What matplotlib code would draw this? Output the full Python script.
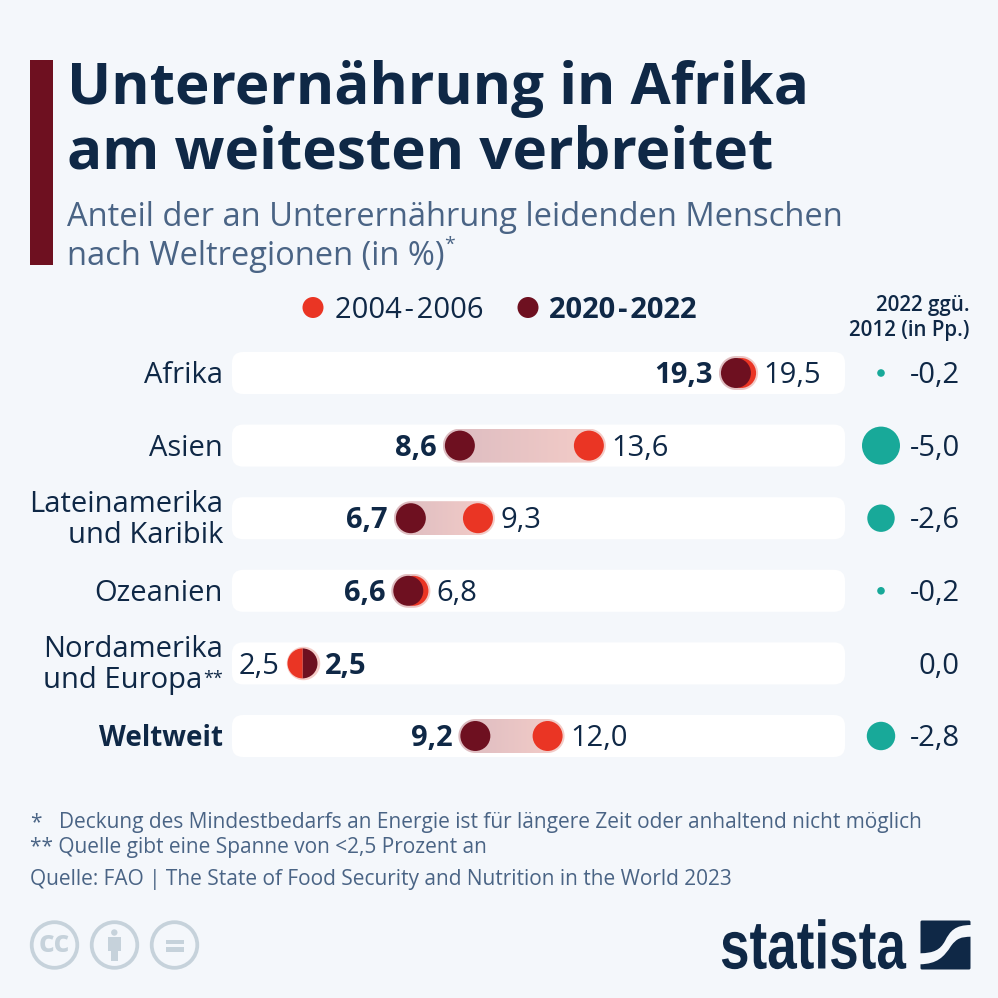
import numpy as np
import matplotlib
matplotlib.use("Agg")
import matplotlib.pyplot as plt
from matplotlib.markers import MarkerStyle
from matplotlib.patches import Circle, FancyBboxPatch, PathPatch, Rectangle
from matplotlib.patheffects import AbstractPathEffect
from matplotlib.path import Path
from matplotlib.colors import LinearSegmentedColormap
from matplotlib.transforms import Affine2D

regions = ["Afrika", "Asien", "Lateinamerika\nund Karibik", "Ozeanien", "Nordamerika\nund Europa", "Weltweit"]
values_2004 = [19.5, 13.6, 9.3, 6.8, 2.5, 12.0]
values_2020 = [19.3, 8.6, 6.7, 6.6, 2.5, 9.2]
change_pp = [-0.2, -5.0, -2.6, -0.2, 0.0, -2.8]

BG = "#f4f7fb"
NAVY = "#0f2846"
SLATE = "#4a6485"
RED = "#ea3524"
DARK = "#6e1020"
TEAL = "#18a999"
GREY = "#c6d2db"
FS = 21

plt.rcParams["font.family"] = ["Open Sans", "DejaVu Sans"]


def de(v):
    return f"{v:.1f}".replace(".", ",")


# schmale Schrift fürs Logo: Text bleibt Text, wird nur horizontal gestaucht
class Squeeze(AbstractPathEffect):
    def __init__(self, x0, sx):
        super().__init__()
        self.x0 = x0
        self.sx = sx

    def draw_path(self, renderer, gc, tpath, affine, rgbFace=None):
        squeeze = Affine2D().translate(-self.x0, 0).scale(self.sx, 1).translate(self.x0, 0)
        renderer.draw_path(gc, tpath, affine + squeeze, rgbFace)


fig = plt.figure(figsize=(9.98, 9.98), dpi=100, facecolor=BG)

# Hintergrund-Achse in Pixeln
bg = fig.add_axes([0, 0, 1, 1], zorder=0)
bg.set_xlim(0, 998)
bg.set_ylim(998, 0)
bg.axis("off")

# Datenachse: 0 % liegt bei 238 px, 1 % = 25,8 px; Zeilenabstand 72,6 px
L, R, T, B = 232, 845, 340, 770
ax = fig.add_axes([L / 998, 1 - B / 998, (R - L) / 998, (B - T) / 998], zorder=1)
ax.set_xlim((L - 238) / 25.8, (R - 238) / 25.8)
ax.set_ylim((B - 373) / 72.6, (T - 373) / 72.6)
ax.axis("off")

# Achse für die Veränderung (Blasen)
ax2 = fig.add_axes([850 / 998, 1 - B / 998, 148 / 998, (B - T) / 998], zorder=1)
ax2.set_xlim(0, 148)
ax2.set_ylim(ax.get_ylim())
ax2.axis("off")

# Titelblock
bg.add_patch(Rectangle((30, 60), 23, 205, fc=DARK, ec="none"))
bg.text(67, 104, "Unterernährung in Afrika", fontsize=42, fontweight="bold", color=NAVY, va="baseline")
bg.text(67, 168, "am weitesten verbreitet", fontsize=42, fontweight="bold", color=NAVY, va="baseline")
bg.text(67, 226, "Anteil der an Unterernährung leidenden Menschen", fontsize=23.5, color=SLATE, va="baseline")
bg.text(67, 265, "nach Weltregionen (in %)", fontsize=23.5, color=SLATE, va="baseline")
bg.text(444, 250, "*", fontsize=14, color=SLATE, va="baseline")

# Legende
legend_items = [(313, RED, 335, "2004\u200a-\u200a2006", "normal"), (528, DARK, 549, "2020\u200a-\u200a2022", "bold")]
for cx, col, tx, label, weight in legend_items:
    bg.add_patch(Circle((cx, 307.5), 10.5, fc=col, ec="none"))
    bg.text(tx, 318, label, fontsize=FS, color=NAVY, fontweight=weight, va="baseline")

bg.text(970, 311, "2022 ggü.", fontsize=14.8, fontweight=600, color=NAVY, ha="right", va="baseline")
bg.text(970, 336, "2012 (in Pp.)", fontsize=14.8, fontweight=600, color=NAVY, ha="right", va="baseline")

# Zeilen
for i, name in enumerate(regions):
    yc = 373 + 72.6 * i
    bg.add_patch(FancyBboxPatch((232 + 11, yc - 21 + 11), 613 - 22, 42 - 22,
                                boxstyle="round,pad=11", fc="white", ec="none"))
    lines = name.split("\n")
    if name == "Weltweit":
        bg.text(223, yc + 10, name, fontsize=20, color=NAVY, fontweight="bold", ha="right", va="baseline")
    elif len(lines) == 1:
        bg.text(223, yc + 10, name, fontsize=FS, color=NAVY, ha="right", va="baseline")
    elif lines[1] == "und Europa":
        bg.text(223, yc - 6, lines[0], fontsize=FS, color=NAVY, ha="right", va="baseline")
        bg.text(202.5, yc + 25, lines[1], fontsize=FS, color=NAVY, ha="right", va="baseline")
        bg.text(223, yc + 20, "**", fontsize=13, color=NAVY, ha="right", va="baseline")
    else:
        bg.text(223, yc - 6, lines[0], fontsize=FS, color=NAVY, ha="right", va="baseline")
        bg.text(223, yc + 25, lines[1], fontsize=FS, color=NAVY, ha="right", va="baseline")

# Verlaufsband und Punkte
cmap = LinearSegmentedColormap.from_list("band", ["#dcbcc1", "#f5cdc8"])
gradient = np.linspace(0, 1, 256).reshape(1, -1)
r_x = 17 / 25.8
r_y = 17 / 72.6
dot = 466
for i, (v1, v2) in enumerate(zip(values_2004, values_2020)):
    lo, hi = min(v1, v2) - r_x, max(v1, v2) + r_x
    if v1 != v2:
        t = np.linspace(np.pi / 2, 3 * np.pi / 2, 30)
        verts = list(zip(lo + r_x + r_x * np.cos(t), i + r_y * np.sin(t)))
        t = np.linspace(3 * np.pi / 2, 5 * np.pi / 2, 30)
        verts += list(zip(hi - r_x + r_x * np.cos(t), i + r_y * np.sin(t)))
        clip = PathPatch(Path(verts + [verts[0]]), fc="none", ec="none", transform=ax.transData)
        ax.add_patch(clip)
        im = ax.imshow(gradient, extent=(lo, hi, i + r_y, i - r_y), cmap=cmap, aspect="auto", zorder=2)
        im.set_clip_path(clip)
        ax.scatter([v1], [i], s=dot, color=RED, edgecolors="none", zorder=3)
        ax.scatter([v2], [i], s=dot, color=DARK, edgecolors="none", zorder=4)
    else:
        ax.scatter([v1], [i], s=dot, color="#f5cdc8", edgecolors="#f5cdc8", linewidths=2.5, zorder=3)
        ax.scatter([v2], [i], s=dot, color=DARK, marker=MarkerStyle("o", fillstyle="right"),
                   edgecolors="none", zorder=4)
        ax.scatter([v1], [i], s=dot, color=RED, marker=MarkerStyle("o", fillstyle="left"),
                   edgecolors="none", zorder=4)

    if v1 > v2:
        ax.annotate(de(v2), (v2, i), xytext=(-16.5, -7.3), textcoords="offset points", ha="right", va="baseline",
                    fontsize=FS, fontweight="bold", color=NAVY, zorder=5)
        ax.annotate(de(v1), (v1, i), xytext=(16.3, -7.3), textcoords="offset points", ha="left", va="baseline",
                    fontsize=FS, color=NAVY, zorder=5)
    else:
        ax.annotate(de(v1), (v1, i), xytext=(-16.5, -7.3), textcoords="offset points", ha="right", va="baseline",
                    fontsize=FS, color=NAVY, zorder=5)
        ax.annotate(de(v2), (v2, i), xytext=(16.5, -7.3), textcoords="offset points", ha="left", va="baseline",
                    fontsize=FS, fontweight="bold", color=NAVY, zorder=5)

# Blasen: Fläche proportional zur Veränderung, -5,0 = 38 px Durchmesser
for i, c in enumerate(change_pp):
    if c != 0:
        d_pt = 38 * np.sqrt(abs(c) / 5.0) * 0.72
        ax2.scatter([881 - 850], [i], s=d_pt ** 2, color=TEAL, edgecolors="none")
    ax2.annotate(de(c), (110, i), xytext=(0, -7.3), textcoords="offset points", ha="right", va="baseline",
                 fontsize=FS, color=NAVY)

# Fußnoten
bg.text(30, 828, "*", fontsize=15, color=SLATE, va="baseline")
bg.text(59, 828, "Deckung des Mindestbedarfs an Energie ist für längere Zeit oder anhaltend nicht möglich",
        fontsize=15, color=SLATE, va="baseline")
bg.text(30, 853, "** Quelle gibt eine Spanne von <2,5 Prozent an", fontsize=15, color=SLATE, va="baseline")
bg.text(30, 885, "Quelle: FAO | The State of Food Security and Nutrition in the World 2023", fontsize=15,
        color=SLATE, va="baseline")

# CC-Symbole
for cx in (54.5, 114.5, 174.5):
    bg.add_patch(Circle((cx, 945), 22.8, fc="none", ec=GREY, lw=2.7))
bg.text(54.5, 944, "cc", fontsize=22, fontweight="bold", color=GREY, ha="center", va="center")
bg.add_patch(Circle((114.3, 932.5), 3.2, fc=GREY, ec="none"))
bg.add_patch(Rectangle((107.7, 937), 13.3, 14, fc=GREY, ec="none"))
bg.add_patch(Rectangle((110.7, 951), 7.6, 9.5, fc=GREY, ec="none"))
bg.add_patch(Rectangle((166, 940), 18, 4.3, fc=GREY, ec="none"))
bg.add_patch(Rectangle((166, 947.4), 18, 4.3, fc=GREY, ec="none"))

# Statista-Logo
logo = bg.text(720, 968.5, "statista", fontsize=49, fontweight="bold", family=["Liberation Sans", "DejaVu Sans"],
               color=NAVY, ha="left", va="baseline")
logo_x0 = bg.transData.transform((720, 968.5))[0]
logo.set_path_effects([Squeeze(logo_x0, 0.78)])
bg.add_patch(FancyBboxPatch((922, 922), 47, 46, boxstyle="round,pad=1.5", fc=NAVY, ec="none"))
s_verts = [(971, 925), (955, 925), (950, 931), (945, 941), (940, 950), (934, 953), (920, 953.3),
           (920, 964.3), (937, 964), (944, 957), (951, 946), (957, 938), (961, 937), (971, 936.7), (971, 925)]
s_codes = [Path.MOVETO, Path.CURVE4, Path.CURVE4, Path.CURVE4, Path.CURVE4, Path.CURVE4, Path.CURVE4,
           Path.LINETO, Path.CURVE4, Path.CURVE4, Path.CURVE4, Path.CURVE4, Path.CURVE4, Path.CURVE4, Path.CLOSEPOLY]
bg.add_patch(PathPatch(Path(s_verts, s_codes), fc=BG, ec="none"))

fig.savefig("out.png", dpi=100, facecolor=BG)
